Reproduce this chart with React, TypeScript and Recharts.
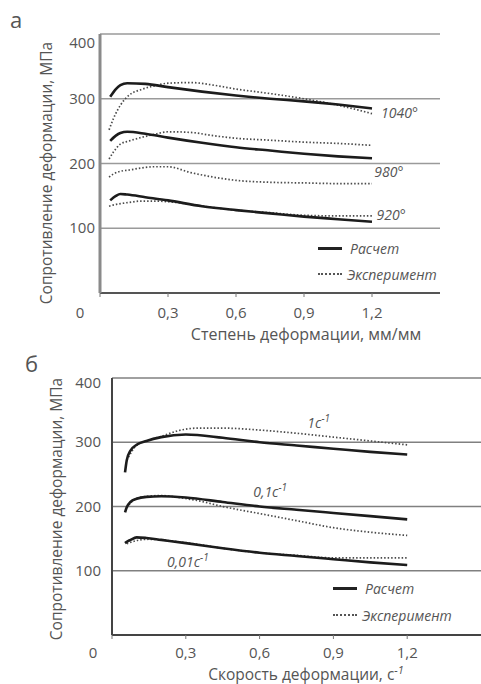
import { LineChart, Line, XAxis, YAxis, CartesianGrid, ReferenceDot } from "recharts";

// shared axes
const xTicks = [0, 0.3, 0.6, 0.9, 1.2];
const yTicks = [100, 200, 300, 400];

// panel а: strain, mm/mm
const calcStrain = [0.045, 0.07, 0.09, 0.12, 0.2, 0.3, 0.45, 0.6, 0.75, 0.9, 1.05, 1.2];
const calc1040 = [303, 315, 321, 324, 323, 318, 311, 305, 300, 296, 291, 285];
const calc980 = [235, 243, 247, 249, 246, 240, 232, 225, 220, 215, 211, 208];
const calc920 = [143, 150, 153, 152, 148, 143, 134, 128, 123, 118, 114, 110];

const expStrain = [0.04, 0.06, 0.09, 0.13, 0.18, 0.24, 0.3, 0.4, 0.5, 0.6, 0.75, 0.9, 1.05, 1.2];
const exp1040 = [252, 270, 290, 306, 314, 320, 324, 325, 321, 315, 308, 300, 290, 277];
const exp980a = [207, 218, 230, 235, 240, 245, 249, 248, 243, 239, 236, 233, 231, 228];
const exp980b = [179, 184, 188, 190, 193, 195, 195, 186, 179, 174, 171, 170, 169, 169];
const exp920 = [134, 136, 138, 140, 142, 142, 141, 137, 132, 128, 124, 120, 119, 119];

// panel б: strain rate
const calcRateX = [0.053, 0.06, 0.075, 0.1, 0.14, 0.2, 0.3, 0.45, 0.6, 0.75, 0.9, 1.05, 1.2];
const calcRate1 = [253, 272, 287, 296, 302, 308, 312, 307, 300, 295, 290, 285, 281];
const calcRate01 = [191, 199, 207, 212, 215, 216, 214, 207, 200, 195, 190, 185, 180];
const calcRate001 = [143, 145, 148, 152, 151, 148, 143, 135, 128, 123, 118, 113, 109];

const expRateX = [0.06, 0.1, 0.15, 0.2, 0.27, 0.35, 0.45, 0.6, 0.75, 0.9, 1.05, 1.2];
const expRate1 = [272, 295, 303, 309, 318, 322, 322, 319, 314, 308, 302, 296];
const expRate01 = [198, 213, 216, 217, 214, 209, 200, 189, 178, 167, 160, 155];
const expRate001 = [142, 147, 149, 148, 145, 141, 135, 128, 124, 120, 120, 120];

const zip = (xs: number[], ys: number[]) => xs.map((x, i) => ({ x, y: ys[i] }));

const FONT = "'Open Sans', sans-serif";
const TXT = "#555";

const fmt = (v: number) => (v === 0 ? "0" : v.toFixed(1).replace(".", ","));

const calcStyle = { stroke: "#1c1c1c", strokeWidth: 2.6 };
const expStyle = { stroke: "#4a4a4a", strokeWidth: 1.7, strokeDasharray: "1.5 2" };

function XTick(props: any) {
  const { x, y, payload, zeroShift, dy } = props;
  return (
    <text
      x={payload.value === 0 ? x - zeroShift : x}
      y={y}
      dy={dy}
      textAnchor="middle"
      fill={TXT}
      fontSize={15}
      fontFamily={FONT}
    >
      {fmt(payload.value)}
    </text>
  );
}

function YTick(props: any) {
  const { x, y, payload, topShift } = props;
  return (
    <text
      x={x}
      y={payload.value === 400 ? y + topShift : y}
      dy={5}
      textAnchor="end"
      fill={TXT}
      fontSize={15}
      fontFamily={FONT}
    >
      {payload.value}
    </text>
  );
}

function CurveLabel(props: any) {
  const { viewBox, text, sup } = props;
  return (
    <text x={viewBox.x} y={viewBox.y} dy={5} fill={TXT} fontSize={14} fontStyle="italic" fontFamily={FONT}>
      {text}
      {sup && (
        <tspan dy={-6} fontSize={10}>
          {sup}
        </tspan>
      )}
    </text>
  );
}

function LegendBox({ left, top, gap }: { left: number; top: number; gap: number }) {
  const item = { position: "absolute" as const, display: "flex", alignItems: "center", left, fontFamily: FONT, fontSize: 14, fontStyle: "italic", color: TXT };
  return (
    <>
      <div style={{ ...item, top: top - 10, height: 20 }}>
        <div style={{ width: 24, borderTop: "3px solid #222", marginRight: 8 }} />
        Расчет
      </div>
      <div style={{ ...item, top: top + gap - 10, height: 20 }}>
        <div style={{ width: 24, borderTop: "2px dotted #555", marginRight: 5 }} />
        Эксперимент
      </div>
    </>
  );
}

const dotless = { r: 0, fill: "none", stroke: "none" };

export default function App() {
  return (
    <div style={{ position: "absolute", left: 0, top: 0, width: 481, height: 684, background: "#fff", overflow: "hidden" }}>
      <div style={{ position: "absolute", left: 10, top: 4, fontSize: 22, fontFamily: FONT, color: TXT }}>а</div>
      <div style={{ position: "absolute", left: 25, top: 348, fontSize: 22, fontFamily: FONT, color: TXT }}>б</div>

      {/* panel а */}
      <div style={{ position: "absolute", left: 0, top: 0 }}>
        <LineChart width={481} height={345} margin={{ top: 34, right: 41, left: 0, bottom: 0 }}>
          <CartesianGrid vertical={false} stroke="#9a9a9a" strokeWidth={1.5} />
          <XAxis
            type="number"
            dataKey="x"
            domain={[0, 1.5]}
            ticks={xTicks}
            height={52}
            axisLine={{ stroke: "#555", strokeWidth: 1.8 }}
            tickLine={{ stroke: "#777" }}
            tickSize={4}
            tick={(p: any) => <XTick {...p} zeroShift={20} dy={19} />}
            label={{
              content: () => (
                <text x={306} y={340} textAnchor="middle" fill={TXT} fontSize={16} fontFamily={FONT}>
                  Степень деформации, мм/мм
                </text>
              ),
            }}
          />
          <YAxis
            type="number"
            domain={[0, 400]}
            ticks={yTicks}
            width={100}
            axisLine={{ stroke: "#8a8a8a", strokeWidth: 3 }}
            tickLine={false}
            tickSize={0}
            tickMargin={5}
            tick={(p: any) => <YTick {...p} topShift={9} />}
            label={{
              content: () => (
                <text x={48} y={173} transform="rotate(-90 48 173)" textAnchor="middle" dominantBaseline="middle" fill={TXT} fontSize={15.5} fontFamily={FONT}>
                  Сопротивление деформации, МПа
                </text>
              ),
            }}
          />
          <Line data={zip(expStrain, exp1040)} dataKey="y" type="monotone" dot={false} isAnimationActive={false} {...expStyle} />
          <Line data={zip(expStrain, exp980a)} dataKey="y" type="monotone" dot={false} isAnimationActive={false} {...expStyle} />
          <Line data={zip(expStrain, exp980b)} dataKey="y" type="monotone" dot={false} isAnimationActive={false} {...expStyle} />
          <Line data={zip(expStrain, exp920)} dataKey="y" type="monotone" dot={false} isAnimationActive={false} {...expStyle} />
          <Line data={zip(calcStrain, calc1040)} dataKey="y" type="monotone" dot={false} isAnimationActive={false} {...calcStyle} />
          <Line data={zip(calcStrain, calc980)} dataKey="y" type="monotone" dot={false} isAnimationActive={false} {...calcStyle} />
          <Line data={zip(calcStrain, calc920)} dataKey="y" type="monotone" dot={false} isAnimationActive={false} {...calcStyle} />
          <ReferenceDot x={1.24} y={278} {...dotless} label={(p: any) => <CurveLabel {...p} text="1040°" />} />
          <ReferenceDot x={1.21} y={187} {...dotless} label={(p: any) => <CurveLabel {...p} text="980°" />} />
          <ReferenceDot x={1.22} y={120} {...dotless} label={(p: any) => <CurveLabel {...p} text="920°" />} />
        </LineChart>
      </div>
      <LegendBox left={318} top={248} gap={26} />

      {/* panel б */}
      <div style={{ position: "absolute", left: 0, top: 345 }}>
        <LineChart width={481} height={339} margin={{ top: 33, right: 0, left: 0, bottom: 0 }}>
          <CartesianGrid vertical={false} stroke="#808080" strokeWidth={1.5} />
          <XAxis
            type="number"
            dataKey="x"
            domain={[0, 1.5]}
            ticks={xTicks}
            height={49}
            axisLine={{ stroke: "#444", strokeWidth: 1.8 }}
            tickLine={{ stroke: "#777" }}
            tickSize={4}
            tick={(p: any) => <XTick {...p} zeroShift={19} dy={17} />}
            label={{
              content: () => (
                <text x={306} y={335} textAnchor="middle" fill={TXT} fontSize={15.5} fontFamily={FONT}>
                  Скорость деформации, с
                  <tspan dy={-6} fontSize={11} fontStyle="italic">-1</tspan>
                </text>
              ),
            }}
          />
          <YAxis
            type="number"
            domain={[0, 400]}
            ticks={yTicks}
            width={112}
            axisLine={{ stroke: "#444", strokeWidth: 2 }}
            tickLine={false}
            tickSize={0}
            tickMargin={11}
            tick={(p: any) => <YTick {...p} topShift={5} />}
            label={{
              content: () => (
                <text x={58} y={164} transform="rotate(-90 58 164)" textAnchor="middle" dominantBaseline="middle" fill={TXT} fontSize={15.5} fontFamily={FONT}>
                  Сопротивление деформации, МПа
                </text>
              ),
            }}
          />
          <Line data={zip(expRateX, expRate1)} dataKey="y" type="monotone" dot={false} isAnimationActive={false} {...expStyle} />
          <Line data={zip(expRateX, expRate01)} dataKey="y" type="monotone" dot={false} isAnimationActive={false} {...expStyle} />
          <Line data={zip(expRateX, expRate001)} dataKey="y" type="monotone" dot={false} isAnimationActive={false} {...expStyle} />
          <Line data={zip(calcRateX, calcRate1)} dataKey="y" type="monotone" dot={false} isAnimationActive={false} {...calcStyle} />
          <Line data={zip(calcRateX, calcRate01)} dataKey="y" type="monotone" dot={false} isAnimationActive={false} {...calcStyle} />
          <Line data={zip(calcRateX, calcRate001)} dataKey="y" type="monotone" dot={false} isAnimationActive={false} {...calcStyle} />
          <ReferenceDot x={0.794} y={330} {...dotless} label={(p: any) => <CurveLabel {...p} text="1с" sup="-1" />} />
          <ReferenceDot x={0.574} y={222} {...dotless} label={(p: any) => <CurveLabel {...p} text="0,1с" sup="-1" />} />
          <ReferenceDot x={0.224} y={113} {...dotless} label={(p: any) => <CurveLabel {...p} text="0,01с" sup="-1" />} />
        </LineChart>
      </div>
      <LegendBox left={333} top={588} gap={27} />
    </div>
  );
}
